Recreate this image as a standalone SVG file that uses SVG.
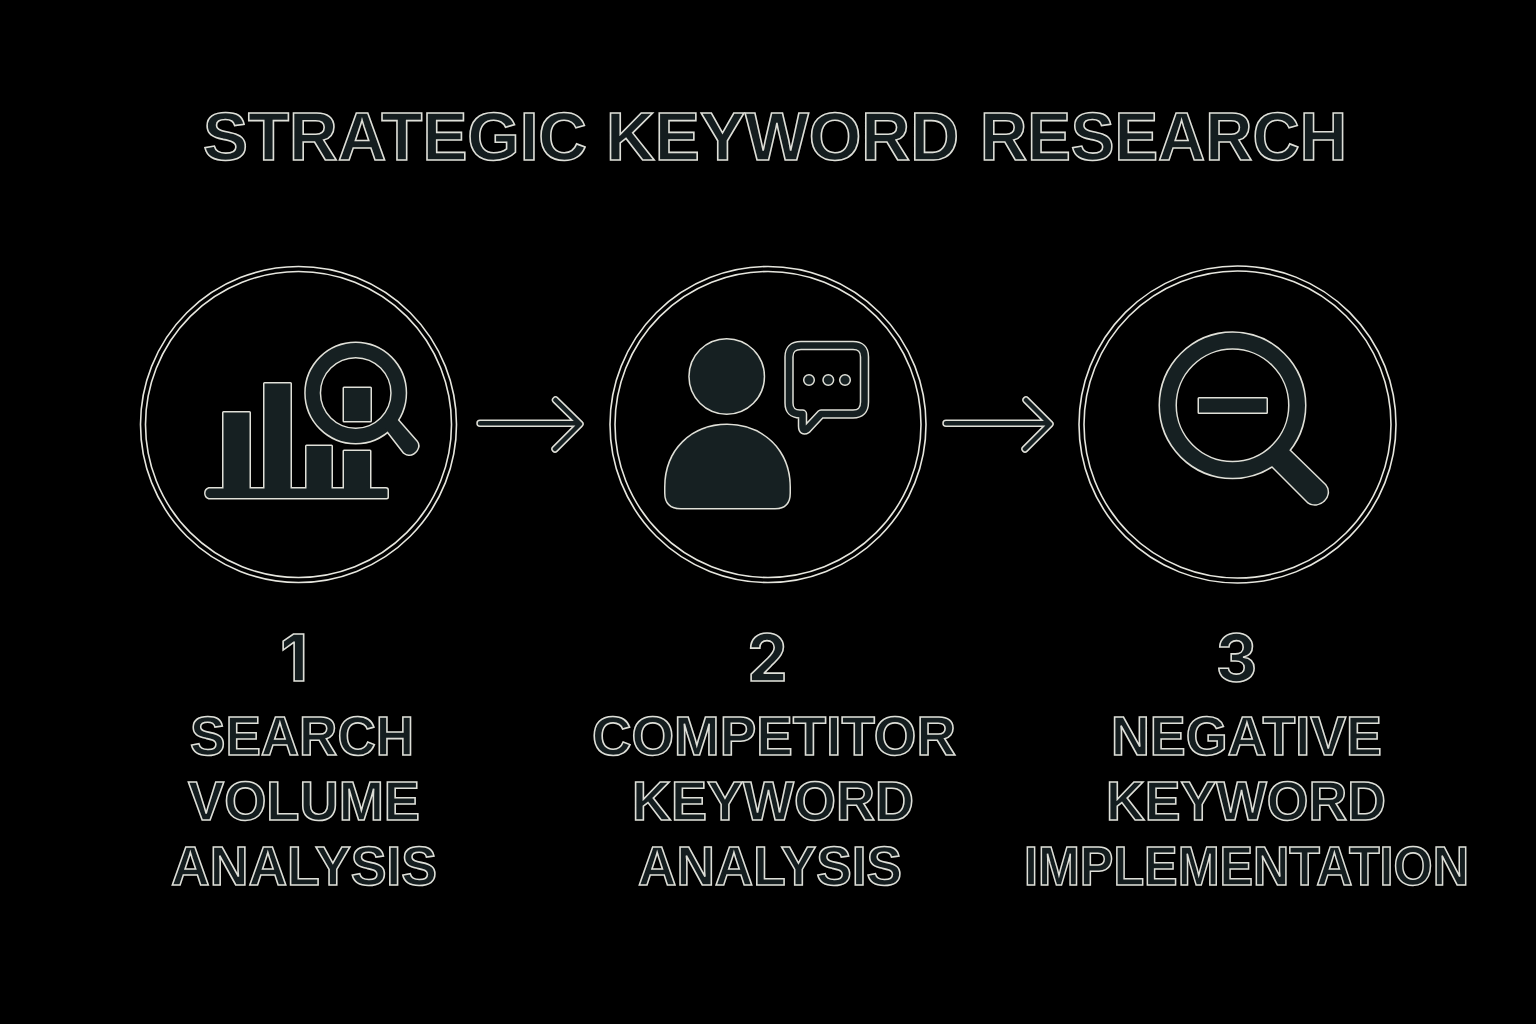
<svg xmlns="http://www.w3.org/2000/svg" width="1536" height="1024" viewBox="0 0 1536 1024">
<style>
.t{font-family:"Liberation Sans",Arial,sans-serif;font-weight:700;fill:#141d1f;stroke:#dedfd8;stroke-width:1.6;stroke-linejoin:miter}
.title{font-size:68px}
.num{font-family:Inter,"Liberation Sans",sans-serif;font-weight:700;font-size:64px}
.lab{font-size:55px}
.ring{fill:none;stroke:#e6e6de;stroke-width:1.6}
.o{fill:#e0e0d8;stroke:#e0e0d8;stroke-width:3;stroke-linejoin:round;stroke-linecap:round}
.f{fill:#162022;stroke:none}
.so{fill:none;stroke:#e0e0d8;stroke-linejoin:round;stroke-linecap:round}
.sf{fill:none;stroke:#162022;stroke-linejoin:round;stroke-linecap:round}
</style>
<defs>
<g id="s1">
<rect x="223.5" y="412.5" width="26" height="80"/>
<rect x="264.5" y="383.5" width="26" height="110"/>
<rect x="306.5" y="446" width="25" height="48"/>
<rect x="344" y="451" width="26" height="42"/>
<path d="M209 488.5H386a1.5 1.5 0 0 1 1.5 1.5V497a1 1 0 0 1-1 1H209a5 5 0 0 1 0-9.5Z"/>
<path fill-rule="evenodd" d="M305.7 393a50 50 0 1 0 100 0a50 50 0 1 0-100 0ZM319.7 393a36 36 0 1 1 72 0a36 36 0 1 1-72 0Z"/>
<path d="M385 428L395.500 417.500L416.500 441.500C421 447 415 455 408.500 454.500C407 454.500 405.500 453.500 404 452.500Z"/>
<rect x="344" y="388" width="26.500" height="33"/>
</g>
<g id="s2">
<circle cx="726.700" cy="376.500" r="37"/>
<path d="M681 508H775Q789.500 508 789.500 493V487C789.500 450 762 425 727 425C692 425 665.500 450 665.500 487V493Q665.500 508 681 508Z"/>
</g>
<path id="b2" d="M801 345.500H853Q864.500 345.500 864.500 357V402Q864.500 414 853 414H821L807 429Q802.500 432 802.500 426V414H800Q789 414 789 403V357Q789 345.500 801 345.500Z"/>
<g id="s3">
<path fill-rule="evenodd" d="M1160 405.300a72.500 72.500 0 1 0 145 0a72.500 72.500 0 1 0-145 0ZM1175.500 405.300a57 57 0 1 1 114 0a57 57 0 1 1-114 0Z"/>
<path d="M1271 465L1288 449L1325 485C1334 496 1318 510 1308 502Z"/>
<rect x="1199" y="398.500" width="67.500" height="14"/>
</g>
<path id="a1" d="M480 423.300H579M555.500 400L580 424L555 449"/>
<path id="a2" d="M946 423.300H1049M1026 400L1050 424L1025 449"/>
</defs>
<rect width="1536" height="1024" fill="#000"/>
<g id="title"><text class="t title" y="159.500"><tspan x="203" textLength="384" lengthAdjust="spacingAndGlyphs">STRATEGIC</tspan> <tspan x="606" textLength="353" lengthAdjust="spacingAndGlyphs">KEYWORD</tspan> <tspan x="980" textLength="367" lengthAdjust="spacingAndGlyphs">RESEARCH</tspan></text></g>
<g id="connectors">
<use href="#a1" class="so" stroke-width="7.500"/><use href="#a1" class="sf" stroke-width="4.500"/>
<use href="#a2" class="so" stroke-width="7.500"/><use href="#a2" class="sf" stroke-width="4.500"/>
</g>
<g id="node-1">
<circle class="ring" cx="298.500" cy="424.500" r="158"/><circle class="ring" cx="298.500" cy="424.500" r="153"/>
<use href="#s1" class="o"/><use href="#s1" class="f"/>
<text class="t num" x="294" y="680.500" text-anchor="middle">1</text>
<text class="t lab" x="190" y="755" textLength="224" lengthAdjust="spacingAndGlyphs">SEARCH</text>
<text class="t lab" x="188" y="820" textLength="232" lengthAdjust="spacingAndGlyphs">VOLUME</text>
<text class="t lab" x="171" y="885" textLength="266" lengthAdjust="spacingAndGlyphs">ANALYSIS</text>
</g>
<g id="node-2">
<circle class="ring" cx="768" cy="424.500" r="158"/><circle class="ring" cx="768" cy="424.500" r="153"/>
<use href="#s2" class="o"/><use href="#s2" class="f"/>
<use href="#b2" class="so" stroke-width="9.500"/><use href="#b2" class="sf" stroke-width="6.500"/>
<g fill="#162022" stroke="#e0e0d8" stroke-width="1.500"><circle cx="809" cy="380" r="5.300"/><circle cx="828.300" cy="380" r="5.300"/><circle cx="845" cy="380" r="5.300"/></g>
<text class="t num" x="767.500" y="680.500" text-anchor="middle">2</text>
<text class="t lab" x="592" y="755" textLength="364" lengthAdjust="spacingAndGlyphs">COMPETITOR</text>
<text class="t lab" x="632" y="820" textLength="282" lengthAdjust="spacingAndGlyphs">KEYWORD</text>
<text class="t lab" x="638" y="885" textLength="264" lengthAdjust="spacingAndGlyphs">ANALYSIS</text>
</g>
<g id="node-3">
<circle class="ring" cx="1237.500" cy="424.500" r="158.500"/><circle class="ring" cx="1237.500" cy="424.500" r="153.500"/>
<use href="#s3" class="o"/><use href="#s3" class="f"/>
<text class="t num" x="1236.500" y="680.500" text-anchor="middle">3</text>
<text class="t lab" x="1111" y="755" textLength="271" lengthAdjust="spacingAndGlyphs">NEGATIVE</text>
<text class="t lab" x="1106" y="820" textLength="280" lengthAdjust="spacingAndGlyphs">KEYWORD</text>
<text class="t lab" x="1024" y="885" textLength="445" lengthAdjust="spacingAndGlyphs">IMPLEMENTATION</text>
</g>
</svg>
